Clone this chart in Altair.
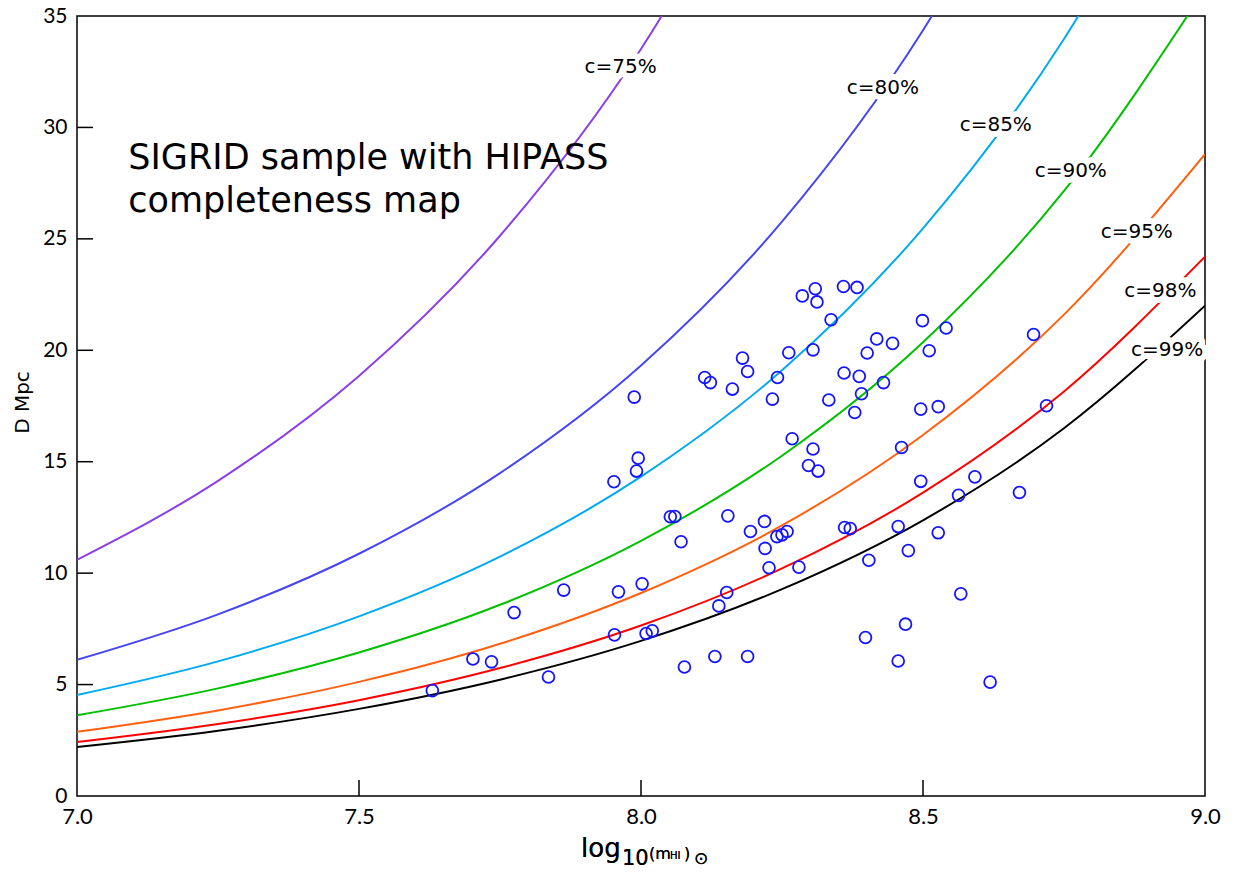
import altair as alt
import pandas as pd

# ---------------- data ----------------
# completeness curves, D [Mpc] sampled at these log10(M_HI) values
curve_x = [7.0, 7.25, 7.5, 7.75, 8.0, 8.25, 8.5, 8.75, 9.0]
c75 = [10.60, 14.14, 18.85, 25.14, 33.52, 44.70]
c80 = [6.11, 8.15, 10.87, 14.49, 19.32, 25.77, 34.36, 45.82]
c85 = [4.53, 6.04, 8.06, 10.74, 14.33, 19.10, 25.47, 33.97, 45.30]
c90 = [3.62, 4.83, 6.44, 8.58, 11.45, 15.27, 20.36, 27.15, 36.20]
c95 = [2.88, 3.84, 5.12, 6.83, 9.11, 12.14, 16.20, 21.60, 28.80]
c98 = [2.42, 3.23, 4.30, 5.74, 7.65, 10.21, 13.61, 18.15, 24.20]
c99 = [2.20, 2.93, 3.91, 5.22, 6.96, 9.28, 12.37, 16.50, 22.00]

curve_names = ["c=75%", "c=80%", "c=85%", "c=90%", "c=95%", "c=98%", "c=99%"]
curve_vals = [c75, c80, c85, c90, c95, c98, c99]
curve_colors = ["#8b3fe6", "#4646f0", "#00aaf0", "#00c000", "#ff6010", "#ff0000", "#000000"]

# curve label anchors (x, D)
label_x = [7.964, 8.429, 8.629, 8.762, 8.879, 8.921, 8.933]
label_y = [32.69, 31.78, 30.13, 28.03, 25.33, 22.64, 20.00]

# SIGRID galaxies
gal_logm = [7.630, 7.702, 7.735, 7.775, 7.836, 7.863, 7.953, 7.960, 8.002, 8.009,
            8.020, 7.952, 7.992, 7.995, 7.988, 8.052, 8.060, 8.071, 8.077, 8.113,
            8.123, 8.131, 8.138, 8.152, 8.154, 8.162, 8.180, 8.189, 8.189, 8.194,
            8.219, 8.220, 8.227, 8.233, 8.241, 8.250, 8.259, 8.242, 8.262, 8.268,
            8.280, 8.286, 8.309, 8.312, 8.305, 8.305, 8.297, 8.314, 8.359, 8.383,
            8.337, 8.499, 8.541, 8.418, 8.446, 8.401, 8.511, 8.696, 8.360, 8.387,
            8.430, 8.391, 8.333, 8.379, 8.496, 8.527, 8.719, 8.462, 8.496, 8.592,
            8.563, 8.671, 8.361, 8.371, 8.456, 8.527, 8.404, 8.474, 8.567, 8.469,
            8.398, 8.456, 8.619]
gal_d = [4.73, 6.15, 6.02, 8.23, 5.34, 9.24, 7.23, 9.16, 9.52, 7.29,
         7.41, 14.10, 14.58, 15.16, 17.90, 12.53, 12.54, 11.41, 5.79, 18.78,
         18.55, 6.26, 8.53, 9.13, 12.57, 18.26, 19.65, 19.05, 6.26, 11.87,
         12.32, 11.11, 10.24, 17.81, 11.64, 11.72, 11.87, 18.78, 19.89, 16.03,
         10.27, 22.44, 22.76, 22.17, 20.02, 15.57, 14.83, 14.58, 22.86, 22.82,
         21.37, 21.33, 21.00, 20.51, 20.31, 19.88, 19.98, 20.71, 18.98, 18.83,
         18.55, 18.05, 17.77, 17.21, 17.36, 17.47, 17.51, 15.64, 14.12, 14.32,
         13.49, 13.62, 12.05, 12.00, 12.09, 11.81, 10.58, 11.01, 9.07, 7.71,
         7.11, 6.06, 5.11]

title_lines = ["SIGRID sample with HIPASS", "completeness map"]
title_x = [7.091, 7.091]
title_y = [28.15, 26.22]

x_ticks = [7.0, 7.5, 8.0, 8.5, 9.0]
y_ticks = [0, 5, 10, 15, 20, 25, 30, 35]
x_inner_ticks = [7.5, 8.0, 8.5]
y_inner_ticks = [5, 10, 15, 20, 25, 30]

# ---------------- tables ----------------
rows = []
for name, vals in zip(curve_names, curve_vals):
    for xv, dv in zip(curve_x, vals):
        rows.append({"curve": name, "logm": xv, "D": dv})
curves_df = pd.DataFrame(rows)
gal_df = pd.DataFrame({"logm": gal_logm, "D": gal_d})
lab_df = pd.DataFrame({"label": curve_names, "logm": label_x, "D": label_y})
title_df = pd.DataFrame({"t": title_lines, "logm": title_x, "D": title_y})
xt_df = pd.DataFrame({"t": x_inner_ticks})
yt_df = pd.DataFrame({"t": y_inner_ticks})

FONT = "Lato"
FONT2 = "DejaVu Sans"
W, H = 1128, 780

xscale = alt.Scale(domain=[7, 9], nice=False, zero=False)
yscale = alt.Scale(domain=[0, 35], nice=False, zero=False)

xaxis = alt.Axis(values=x_ticks, format=".1f", ticks=False, domain=False, grid=False,
                 labelFont=FONT, labelFontSize=22, labelColor="black", labelPadding=10,
                 labelFlush=False, title="")
yaxis = alt.Axis(values=y_ticks, format="d", ticks=False, domain=False, grid=False,
                 labelFont=FONT, labelFontSize=21, labelColor="black", labelPadding=10,
                 labelFlush=False, title="D Mpc", titleFont=FONT2, titleFontSize=20,
                 titleFontWeight="normal", titleColor="black", titleX=-49, titleY=386,
                 titleAngle=270, titleAlign="center", titleBaseline="alphabetic")

X = alt.X("logm:Q", scale=xscale, axis=xaxis)
Y = alt.Y("D:Q", scale=yscale, axis=yaxis)

lines = alt.Chart(curves_df).mark_line(strokeWidth=2, interpolate="monotone", clip=True).encode(
    x=X, y=Y,
    color=alt.Color("curve:N", scale=alt.Scale(domain=curve_names, range=curve_colors), legend=None),
    detail="curve:N",
)

points = alt.Chart(gal_df).mark_point(shape="circle", filled=False, size=140, strokeWidth=1.8,
                                      color="#1414ff", opacity=1).encode(x=X, y=Y)

halo = alt.Chart(lab_df).mark_text(font=FONT2, fontSize=20, color="white", stroke="white",
                                   strokeWidth=12, strokeJoin="round", align="center",
                                   baseline="middle").encode(x=X, y=Y, text="label:N")
labels = alt.Chart(lab_df).mark_text(font=FONT2, fontSize=20, color="black", align="center",
                                     baseline="middle").encode(x=X, y=Y, text="label:N")

title = alt.Chart(title_df).mark_text(font=FONT2, fontSize=35, color="black", align="left",
                                      baseline="alphabetic").encode(x=X, y=Y, text="t:N")

xt = alt.Chart(xt_df).mark_rule(color="black", strokeWidth=1.5).encode(
    x=alt.X("t:Q", scale=xscale), y=alt.value(H), y2=alt.value(H - 16))
yt = alt.Chart(yt_df).mark_rule(color="black", strokeWidth=1.5).encode(
    y=alt.Y("t:Q", scale=yscale), x=alt.value(0), x2=alt.value(16))

# composed x-axis title: log10(m_HI)_sun
def piece(txt, px, py, fs, font=FONT2):
    return alt.Chart(title_df).mark_text(text=txt, font=font, fontSize=fs, color="black",
                                         align="left", baseline="alphabetic").encode(
        x=alt.value(px), y=alt.value(py))

xtitle = [
    piece("log", 504, 841, 26),
    piece("10", 545, 849, 21),
    piece("(m", 572, 843, 16),
    piece("HI", 593, 843, 10),
    piece(")", 607, 843, 16),
    piece("\u2299", 617, 848, 17),
]

chart = alt.layer(lines, points, halo, labels, title, xt, yt, *xtitle).properties(
    width=W, height=H,
    autosize=alt.AutoSizeParams(type="none"),
    padding={"left": 69, "top": 8, "right": 20, "bottom": 74},
).configure_view(stroke="black", strokeWidth=1.5)

chart.save("out.html", embed_options={"renderer": "svg", "actions": False})
